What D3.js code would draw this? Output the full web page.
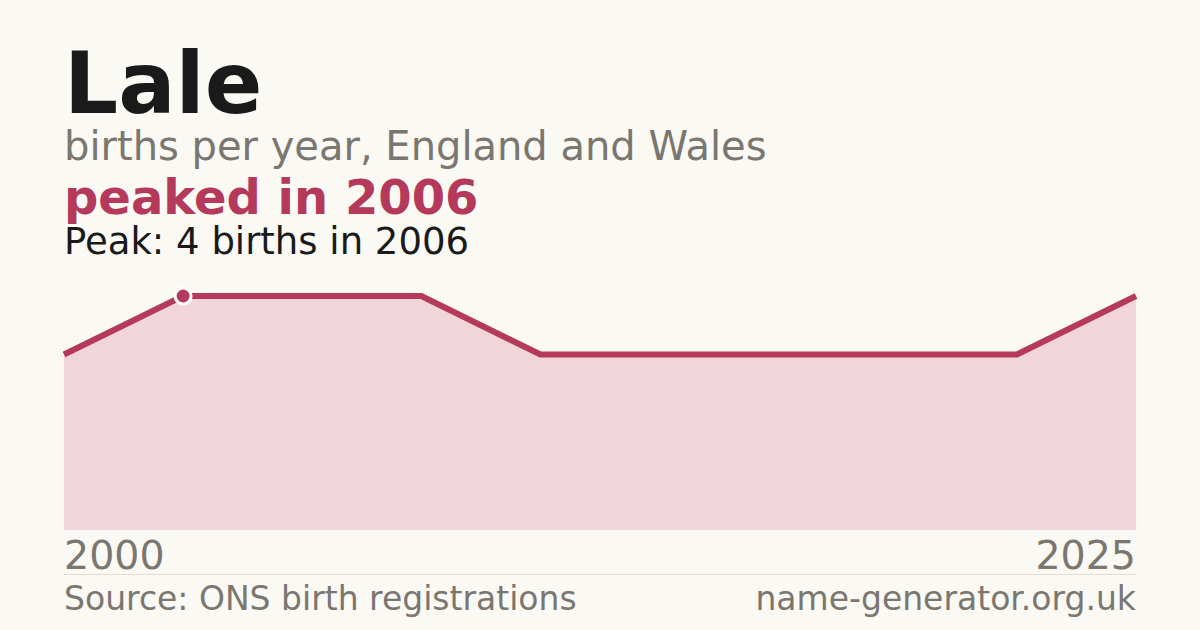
<!DOCTYPE html>
<html>
<head lang="en">
    <meta charset="UTF-8">
    <title>Lale</title>
    <script src="https://cdn.jsdelivr.net/npm/d3@7"></script>
    <style>
        body{margin:0;background:#faf9f4;}
        text{font-family:"DejaVu Sans",sans-serif;}
    </style>
</head>
<body>
<script>
    // years with at least 3 registrations (ONS suppresses smaller counts)
    var years=[2000,2006,2009,2011,2014,2016,2018,2020,2022,2025];
    var births=[3,4,4,4,3,3,3,3,3,4];
    var peakYear=2006, peakValue=4;

    var W=1200,H=630;
    var svg=d3.select("body").append("svg")
            .attr("width",W)
            .attr("height",H);
    svg.append("rect").attr("width",W).attr("height",H).attr("fill","#faf9f4");

    var x=d3.scalePoint()
            .domain(d3.range(years.length))
            .range([64,1136]);
    var y=d3.scaleLinear()
            .domain([0,d3.max(births)])
            .range([530,296]);

    // heading
    svg.append("text").attr("x",64).attr("y",113)
            .style("font-size","85px").style("font-weight","bold").style("fill","#1a1a1a")
            .text("Lale");
    svg.append("text").attr("x",64).attr("y",160)
            .style("font-size","40px").style("fill","#7a7670")
            .text("births per year, England and Wales");
    svg.append("text").attr("x",64).attr("y",214)
            .style("font-size","48px").style("font-weight","bold").style("fill","#b5395a")
            .text("peaked in "+peakYear);
    svg.append("text").attr("x",64).attr("y",254)
            .style("font-size","37px").style("fill","#1a1a1a")
            .text("Peak: "+peakValue+" births in "+peakYear);

    var area=d3.area()
            .x(function(d,i){return x(i);})
            .y0(y(0))
            .y1(function(d){return y(d);});
    var line=d3.line()
            .x(function(d,i){return x(i);})
            .y(function(d){return y(d);});

    svg.append("path").datum(births)
            .attr("d",area)
            .style("fill","#f2d5db");
    svg.append("path").datum(births)
            .attr("d",line)
            .style("fill","none")
            .style("stroke","#b5395a")
            .style("stroke-width",6);

    var pi=years.indexOf(peakYear);
    svg.append("circle")
            .attr("cx",x(pi)).attr("cy",y(births[pi]))
            .attr("r",8)
            .style("fill","#b5395a")
            .style("stroke","#fff")
            .style("stroke-width",3);

    // year labels
    svg.append("text").attr("x",64).attr("y",569)
            .style("font-size","39.5px").style("fill","#7a7670")
            .text(years[0]);
    svg.append("text").attr("x",1136).attr("y",569)
            .attr("text-anchor","end")
            .style("font-size","39.5px").style("fill","#7a7670")
            .text(years[years.length-1]);

    svg.append("line")
            .attr("x1",64).attr("x2",1136).attr("y1",574.5).attr("y2",574.5)
            .style("stroke","#e0dcd4").style("stroke-width",1);

    svg.append("text").attr("x",64).attr("y",610)
            .style("font-size","33px").style("fill","#7a7670")
            .text("Source: ONS birth registrations");
    svg.append("text").attr("x",1136).attr("y",610)
            .attr("text-anchor","end")
            .style("font-size","33px").style("fill","#7a7670")
            .text("name-generator.org.uk");
</script>
</body>
</html>
